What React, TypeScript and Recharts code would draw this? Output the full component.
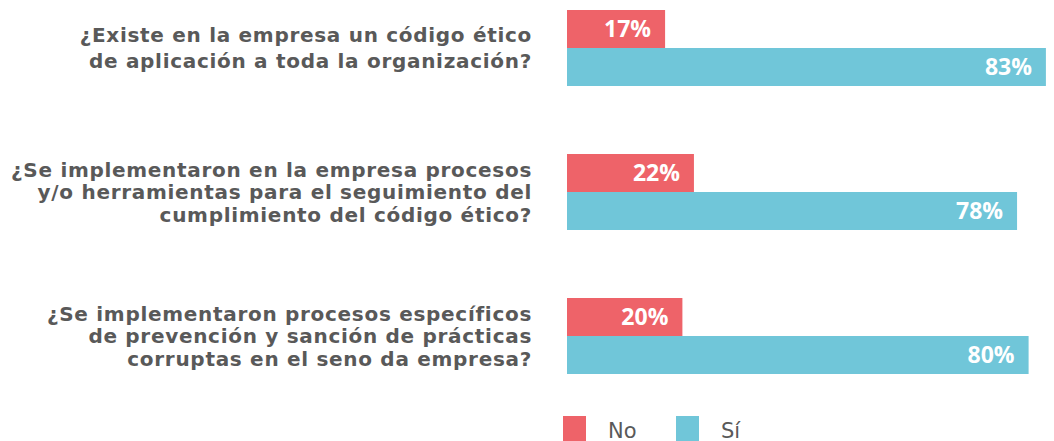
import { BarChart, Bar, XAxis, YAxis, Legend, LabelList } from "recharts";

const questions = [
  ["¿Existe en la empresa un código ético", "de aplicación a toda la organización?"],
  [
    "¿Se implementaron en la empresa procesos",
    "y/o herramientas para el seguimiento del",
    "cumplimiento del código ético?",
  ],
  [
    "¿Se implementaron procesos específicos",
    "de prevención y sanción de prácticas",
    "corruptas en el seno da empresa?",
  ],
];
const noValues = [17, 22, 20];
const siValues = [83, 78, 80];
const seriesNames = ["No", "Sí"];
const seriesColors = ["#ee6369", "#70c6d9"];

const data = questions.map((q, i) => ({
  name: q.join("\n"),
  no: noValues[i],
  si: siValues[i],
}));

const TEXT = "#595959";

function QuestionTick({ x, y, payload }: any) {
  const lines = String(payload.value).split("\n");
  const lh = lines.length > 2 ? 22.5 : 26;
  const start = y - ((lines.length - 1) * lh) / 2 + 7;
  return (
    <text
      textAnchor="end"
      fill={TEXT}
      fontFamily="'DejaVu Sans', Verdana, sans-serif"
      fontWeight="bold"
      fontSize={20}
      letterSpacing={0.7}
    >
      {lines.map((l, i) => (
        <tspan key={i} x={x - 27} y={start + i * lh}>
          {l}
        </tspan>
      ))}
    </text>
  );
}

function LegendContent() {
  return (
    <div style={{ display: "flex", alignItems: "flex-start" }}>
      {seriesNames.map((n, i) => (
        <div key={n} style={{ display: "flex", alignItems: "flex-start", width: i === 0 ? 113 : 80 }}>
          <span
            style={{
              display: "inline-block",
              width: 23,
              height: 25,
              background: seriesColors[i],
            }}
          />
          <span
            style={{
              marginLeft: 22,
              fontFamily: "'DejaVu Sans', Verdana, sans-serif",
              fontSize: 21,
              color: TEXT,
              lineHeight: "30px",
            }}
          >
            {n}
          </span>
        </div>
      ))}
    </div>
  );
}

export default function App() {
  return (
    <div style={{ position: "absolute", top: 0, left: 0, width: 1054, height: 460, background: "#fff" }}>
      <BarChart
        width={1054}
        height={460}
        data={data}
        layout="vertical"
        margin={{ top: -24, right: -90, bottom: 22, left: 0 }}
        barCategoryGap={34}
        barGap={0}
      >
        <XAxis type="number" domain={[0, 100]} hide />
        <YAxis
          type="category"
          dataKey="name"
          width={567}
          axisLine={false}
          tickLine={false}
          tick={<QuestionTick />}
          interval={0}
        />
        <Legend
          content={<LegendContent />}
          wrapperStyle={{ position: "absolute", top: 416, bottom: "auto", left: 563, width: 300, height: 30 }}
        />
        <Bar dataKey="no" name={seriesNames[0]} fill={seriesColors[0]} barSize={38} isAnimationActive={false}>
          <LabelList
            dataKey="no"
            position="insideRight"
            offset={14}
            formatter={(v: any) => `${v}%`}
            fill="#fff"
            fontFamily="'Open Sans', sans-serif"
            fontWeight="bold"
            fontSize={23}
          />
        </Bar>
        <Bar dataKey="si" name={seriesNames[1]} fill={seriesColors[1]} barSize={38} isAnimationActive={false}>
          <LabelList
            dataKey="si"
            position="insideRight"
            offset={14}
            formatter={(v: any) => `${v}%`}
            fill="#fff"
            fontFamily="'Open Sans', sans-serif"
            fontWeight="bold"
            fontSize={23}
          />
        </Bar>
      </BarChart>
    </div>
  );
}
